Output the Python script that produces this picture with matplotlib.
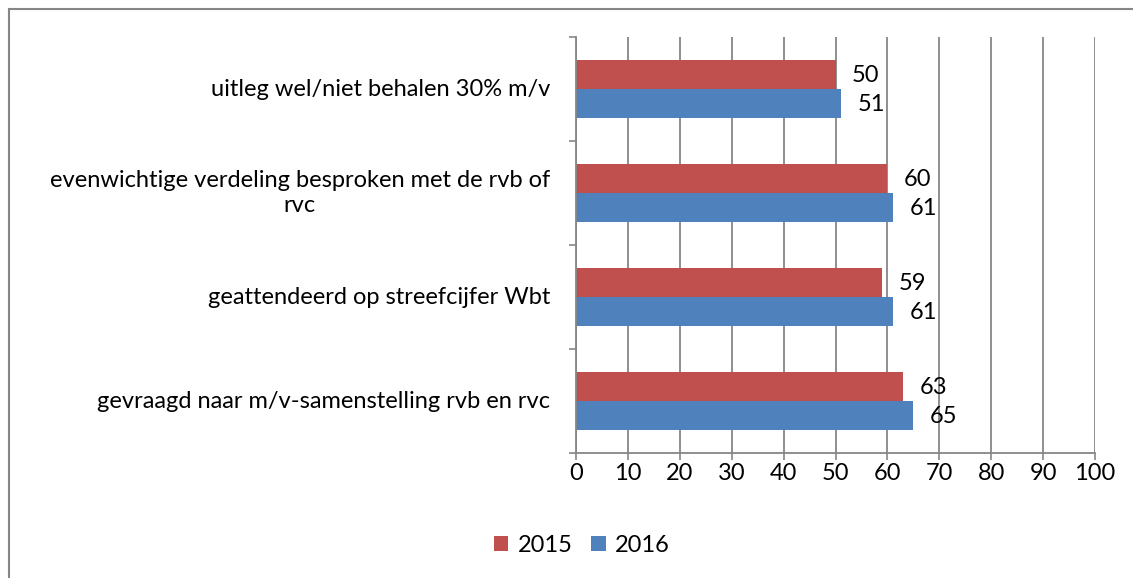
import matplotlib
matplotlib.use("Agg")
import matplotlib.pyplot as plt
import numpy as np

plt.rcParams['font.family'] = ['Lato', 'DejaVu Sans']

categories = [
    "gevraagd naar m/v-samenstelling rvb en rvc",
    "geattendeerd op streefcijfer Wbt",
    "evenwichtige verdeling besproken met de rvb of\nrvc",
    "uitleg wel/niet behalen 30% m/v",
]
vals_2015 = [63, 59, 60, 50]
vals_2016 = [65, 61, 61, 51]
series_names = ["2015", "2016"]
colors = ["#C0504D", "#4F81BD"]

fig = plt.figure(figsize=(11.33, 5.78), dpi=100)
W, H = 1133, 578
ax = fig.add_axes([576 / W, 1 - 453 / H, (1095 - 576) / W, (453 - 37) / H])

y = np.arange(len(categories))
h = 0.28
b1 = ax.barh(y + h / 2, vals_2015, height=h, color=colors[0], label=series_names[0])
b2 = ax.barh(y - h / 2, vals_2016, height=h, color=colors[1], label=series_names[1])

for bars in (b1, b2):
    for rect in bars:
        v = rect.get_width()
        ax.annotate(f"{v:g}", (v, rect.get_y() + rect.get_height() / 2),
                    xytext=(12, -1), textcoords="offset points",
                    ha="left", va="center", fontsize=17, color="black")

ax.set_xlim(0, 100)
ax.set_ylim(-0.5, len(categories) - 0.5)
ax.set_xticks(np.arange(0, 101, 10))
ax.set_yticks(np.arange(-0.5, len(categories), 1))
ax.set_yticklabels([])
ax.tick_params(axis="y", length=5, width=1.2, color="#868686", direction="out")
ax.tick_params(axis="x", length=5, width=1.2, color="#868686", direction="out",
               labelsize=17, pad=2)

for i, c in enumerate(categories):
    ax.text(-0.05, (i + 0.5) / len(categories), c, transform=ax.transAxes,
            ha="right", va="center", multialignment="center", fontsize=17)

ax.grid(axis="x", color="#868686", linewidth=1.3)
ax.set_axisbelow(True)
for s in ["top", "right"]:
    ax.spines[s].set_visible(False)
for s in ["left", "bottom"]:
    ax.spines[s].set_color("#868686")
    ax.spines[s].set_linewidth(1.3)

fig.legend(handles=[b1, b2], labels=series_names, loc="center",
           bbox_to_anchor=(582 / W, 1 - 545 / H), ncol=2, frameon=False,
           fontsize=17, handlelength=0.6, handleheight=0.6, columnspacing=0.8,
           handletextpad=0.4)

# chart frame (only top and left edge visible in the crop)
fig.add_artist(plt.Line2D([9 / W, 9 / W], [0, 1 - 9 / H], color="#868686", lw=1.5))
fig.add_artist(plt.Line2D([9 / W, 1], [1 - 9 / H, 1 - 9 / H], color="#868686", lw=1.5))

fig.savefig("out.png", dpi=100)
